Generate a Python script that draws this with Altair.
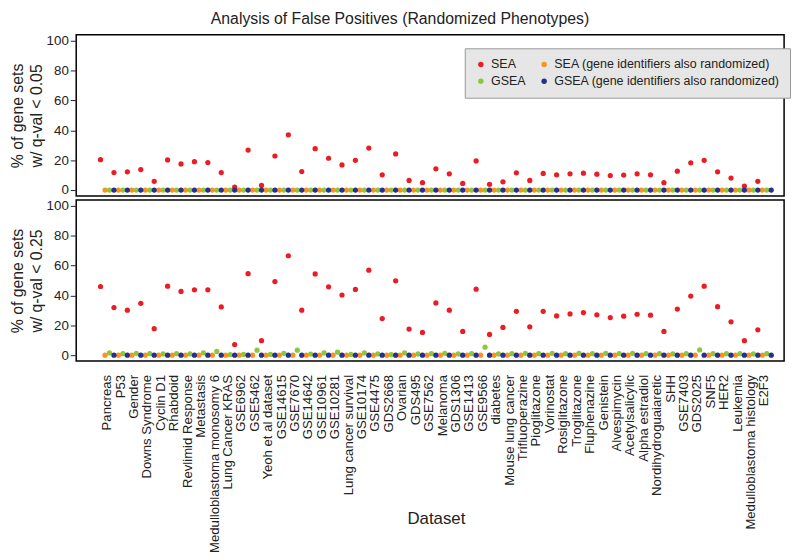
import altair as alt
import pandas as pd

datasets = [
    "Pancreas", "P53", "Gender", "Downs Syndrome", "Cyclin D1", "Rhabdoid",
    "Revlimid Response", "Metastasis", "Medulloblastoma monosomy 6", "Lung Cancer KRAS",
    "GSE6962", "GSE5462", "Yeoh et al dataset", "GSE14615", "GSE7670", "GSE14642",
    "GSE10961", "GSE10281", "Lung cancer survival", "GSE10174", "GSE4475", "GDS2668",
    "Ovarian", "GDS495", "GSE7562", "Melanoma", "GDS1306", "GSE1413", "GSE9566",
    "diabetes", "Mouse lung cancer", "Trifluoperazine", "Pioglitazone", "Vorinostat",
    "Rosiglitazone", "Troglitazone", "Fluphenazine", "Genistein", "Alvespimycin",
    "Acetylsalicylic", "Alpha estradiol", "Nordihydroguaiaretic", "SHH", "GSE7403",
    "GDS2025", "SNF5", "HER2", "Leukemia", "Medulloblastoma histology", "E2F3",
]

# left-to-right order of the points within each dataset
series = [
    "SEA",
    "SEA (gene identifiers also randomized)",
    "GSEA",
    "GSEA (gene identifiers also randomized)",
]
# order of the legend entries (filled column by column)
legend_order = ["SEA", "GSEA", "SEA (gene identifiers also randomized)",
                "GSEA (gene identifiers also randomized)"]
legend_colors = ["#ec1c24", "#8dc63f", "#f7941d", "#262e8f"]
draw_order = ["SEA", "GSEA", "SEA (gene identifiers also randomized)",
              "GSEA (gene identifiers also randomized)"]

# % of gene sets with q-val < 0.05
sea_q05 = [20.3, 11.7, 12.2, 13.7, 5.8, 20.2, 17.5, 19.0, 18.4, 11.7,
           2.0, 26.8, 3.1, 22.8, 37.0, 12.4, 27.7, 21.3, 16.8, 19.9,
           28.1, 10.2, 24.2, 6.4, 4.9, 14.2, 10.9, 4.4, 19.5, 3.8,
           5.5, 11.5, 6.4, 11.1, 10.2, 10.9, 11.3, 10.6, 9.7, 10.0,
           10.9, 10.2, 4.9, 12.6, 18.2, 19.9, 12.2, 8.0, 2.7, 5.8]
gsea_q05 = [0, 0, 0, 0, 0, 0, 0, 0, 0, 0, 0, 0, 0, 0, 0, 0, 0, 0, 0, 0, 0, 0, 0, 0, 0,
            0, 0, 0, 0, 0, 0, 0, 0, 0, 0, 0, 0, 0, 0, 0, 0, 0, 0, 0, 0, 0, 0, 0, 0, 0]
sea_rand_q05 = [0, 0, 0, 0, 0, 0, 0, 0, 0, 0, 0, 0, 0, 0, 0, 0, 0, 0, 0, 0, 0, 0, 0, 0, 0,
                0, 0, 0, 0, 0, 0, 0, 0, 0, 0, 0, 0, 0, 0, 0, 0, 0, 0, 0, 0, 0, 0, 0, 0, 0]
gsea_rand_q05 = [0, 0, 0, 0, 0, 0, 0, 0, 0, 0, 0, 0, 0, 0, 0, 0, 0, 0, 0, 0, 0, 0, 0, 0, 0,
                 0, 0, 0, 0, 0, 0, 0, 0, 0, 0, 0, 0, 0, 0, 0, 0, 0, 0, 0, 0, 0, 0, 0, 0, 0]

# % of gene sets with q-val < 0.25
sea_q25 = [46.0, 31.9, 30.1, 34.7, 17.7, 46.2, 42.7, 43.8, 43.8, 32.3,
           7.1, 54.6, 9.7, 49.3, 66.6, 30.1, 54.4, 45.8, 40.3, 44.0,
           56.9, 24.5, 49.8, 17.5, 15.2, 35.0, 30.1, 15.9, 44.2, 13.9,
           18.6, 29.4, 19.0, 29.4, 26.3, 27.6, 28.5, 27.0, 25.2, 26.1,
           27.4, 26.8, 15.9, 30.9, 39.6, 46.2, 32.5, 22.3, 9.7, 17.0]
gsea_q25 = [1.5, 1.0, 1.2, 1.0, 0.8, 1.0, 0.8, 1.5, 2.5, 0.3,
            0.5, 3.3, 0.5, 1.2, 3.3, 0.7, 1.5, 2.0, 0.5, 1.5,
            0.8, 0.3, 1.5, 0.8, 1.0, 1.2, 0.8, 1.0, 5.3, 0.8,
            1.0, 1.2, 1.0, 1.2, 1.0, 1.2, 1.0, 1.2, 1.0, 1.2,
            1.0, 1.0, 0.8, 1.0, 3.5, 1.0, 1.0, 1.0, 0.8, 1.0]
sea_rand_q25 = [0, 0, 0, 0, 0, 0, 0, 0, 0, 0, 0, 0, 0, 0, 0, 0, 0, 0, 0, 0, 0, 0, 0, 0, 0,
                0, 0, 0, 0, 0, 0, 0, 0, 0, 0, 0, 0, 0, 0, 0, 0, 0, 0, 0, 0, 0, 0, 0, 0, 0]
gsea_rand_q25 = [0, 0, 0, 0, 0, 0, 0, 0, 0, 0, 0, 0, 0, 0, 0, 0, 0, 0, 0, 0, 0, 0, 0, 0, 0,
                 0, 0, 0, 0, 0, 0, 0, 0, 0, 0, 0, 0, 0, 0, 0, 0, 0, 0, 0, 0, 0, 0, 0, 0, 0]

y_ticks = [0, 20, 40, 60, 80, 100]
FONT = "Liberation Sans"


def build(values):
    rows = []
    for name in draw_order:
        for d, v in zip(datasets, values[name]):
            rows.append({"Dataset": d, "Series": name, "Value": v,
                         "draw": draw_order.index(name)})
    return pd.DataFrame(rows)


df05 = build({series[0]: sea_q05, series[1]: sea_rand_q05,
              series[2]: gsea_q05, series[3]: gsea_rand_q05})
df25 = build({series[0]: sea_q25, series[1]: sea_rand_q25,
              series[2]: gsea_q25, series[3]: gsea_rand_q25})

x_scale = alt.Scale(type="band", paddingInner=0, paddingOuter=0, range=[24.6, 703])
off_scale = alt.Scale(domain=series, paddingInner=0, paddingOuter=0)
y_scale = alt.Scale(domain=[-4, 104], nice=False, zero=False)


def panel(df, ytitle, show_x, legend):
    return alt.Chart(df).mark_circle(size=28, opacity=1).encode(
        x=alt.X("Dataset:N", sort=datasets, scale=x_scale,
                axis=alt.Axis(labelAngle=-90, labelFontSize=13.3, labelPadding=13.5,
                              ticks=False, domain=False, title="Dataset",
                              titleFontSize=17, titleY=164,
                              titleBaseline="alphabetic", labelLimit=300)
                if show_x else alt.Axis(labels=False, ticks=False, domain=False, title=None)),
        xOffset=alt.XOffset("Series:N", sort=series, scale=off_scale),
        y=alt.Y("Value:Q", scale=y_scale,
                axis=alt.Axis(values=y_ticks, title=ytitle, tickSize=6,
                              labelFontSize=13.5, labelPadding=2, domain=False, grid=False,
                              titleFontSize=16, titleLineHeight=19, titlePadding=2)),
        color=alt.Color("Series:N",
                        scale=alt.Scale(domain=legend_order, range=legend_colors),
                        legend=legend),
        order=alt.Order("draw:Q"),
    ).properties(width=716, height=163)


legend = alt.Legend(title=None, orient="none", legendX=393, legendY=13.6,
                    columns=2, fillColor="#e6e6e6", strokeColor="#999999",
                    padding=10, labelFontSize=12.6, labelFont=FONT, labelColor="#222222",
                    symbolSize=30, symbolType="circle", columnPadding=12,
                    rowPadding=4, labelLimit=400)

top = panel(df05, ["% of gene sets", "w/ q-val < 0.05"], False, legend)
bottom = panel(df25, ["% of gene sets", "w/ q-val < 0.25"], True, None)

chart = alt.vconcat(top, bottom, spacing=0).resolve_scale(
    color="independent"
).properties(
    title=alt.Title("Analysis of False Positives (Randomized Phenotypes)",
                    fontSize=16, font=FONT, fontWeight="normal", color="#222222",
                    anchor="middle", offset=6),
    padding=0,
).configure_view(
    stroke="black", strokeWidth=1.5
).configure_axis(
    labelFont=FONT, titleFont=FONT, titleFontWeight="normal",
    labelColor="#222222", titleColor="#222222", tickColor="#222222",
)

chart.save("out.html", embed_options={"renderer": "svg", "actions": False})
